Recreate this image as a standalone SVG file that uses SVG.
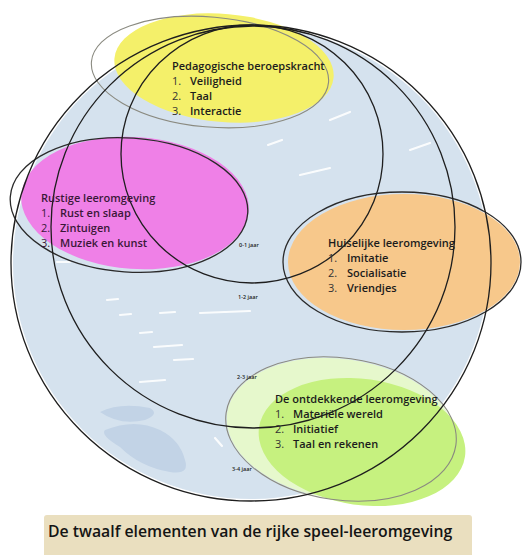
<svg xmlns="http://www.w3.org/2000/svg" width="522" height="555" viewBox="0 0 522 555">
<style>
.t{font-family:"Open Sans","Liberation Sans",sans-serif;font-weight:600;font-size:11px;fill:#1c1c1c}
.n{font-family:"Open Sans","Liberation Sans",sans-serif;font-weight:400;font-size:11px;fill:#333}
.age{font-family:"Open Sans","Liberation Sans",sans-serif;font-weight:600;font-size:5.5px;fill:#222}
.ring{fill:none;stroke:#1e1e1e;stroke-width:1.3}
.gray{fill:none;stroke:#8a8a80;stroke-width:1.1}
.dark{fill:none;stroke:#2a2a2a;stroke-width:1.3}
.streak{stroke:#ffffff;stroke-width:2.2;stroke-linecap:round;opacity:0.9}
.blob{fill:#c2d3e6}
</style>
<rect width="522" height="555" fill="#ffffff"/>
<g id="background">
<ellipse cx="251" cy="263" rx="238" ry="236" fill="#d5e2ee"/>
<path class="blob" d="M100,412 q20,-10 50,-4 q10,6 -5,12 q-25,6 -45,-8z M105,430 q30,-12 55,0 q20,10 25,30 q5,15 -15,12 q-30,-5 -50,-25 q-20,-12 -15,-17z"/>
<g>
<line class="streak" x1="107" y1="300" x2="118" y2="299"/>
<line class="streak" x1="120" y1="315" x2="131" y2="314"/>
<line class="streak" x1="140" y1="333" x2="152" y2="332"/>
<line class="streak" x1="154" y1="347" x2="182" y2="345"/>
<line class="streak" x1="174" y1="360" x2="193" y2="359"/>
<line class="streak" x1="140" y1="382" x2="165" y2="380"/>
<line class="streak" x1="200" y1="313" x2="250" y2="311"/>
<line class="streak" x1="160" y1="313" x2="175" y2="312"/>
<line class="streak" x1="268" y1="145" x2="282" y2="140"/>
<line class="streak" x1="300" y1="175" x2="330" y2="168"/>
<line class="streak" x1="410" y1="150" x2="430" y2="143"/>
<line class="streak" x1="330" y1="120" x2="350" y2="112"/>
<line class="streak" x1="215" y1="438" x2="222" y2="446"/>
<line class="streak" x1="57" y1="262" x2="70" y2="262"/>
</g>
</g>
<g id="node-pedagogisch">
<ellipse cx="224" cy="68" rx="110" ry="54" fill="#f4f06a" transform="rotate(5 224 68)"/>
<ellipse cx="210" cy="72" rx="119" ry="55" class="gray" transform="rotate(5 210 72)"/>
</g>
<g id="node-rustig">
<ellipse cx="135" cy="203" rx="114" ry="66" fill="#ef80e7" transform="rotate(4 135 203)"/>
<ellipse cx="129" cy="205" rx="119" ry="67" class="dark" transform="rotate(4 129 205)"/>
</g>
<g id="node-huiselijk">
<ellipse cx="404" cy="262" rx="116" ry="68" fill="#f7c88b"/>
<ellipse cx="402" cy="262" rx="119" ry="70" class="dark"/>
</g>
<g id="node-ontdekkend">
<ellipse cx="341" cy="429" rx="115" ry="70" fill="#e6f8cc" transform="rotate(8 341 429)"/>
<ellipse cx="362" cy="442" rx="104" ry="63" fill="#c6f17f" transform="rotate(8 362 442)"/>
<ellipse cx="341" cy="429" rx="116" ry="71" class="gray" transform="rotate(8 341 429)"/>
</g>
<g id="connectors">
<ellipse id="ring-0-1" class="ring" cx="252" cy="154" rx="131" ry="129"/>
<ellipse id="ring-1-2" class="ring" cx="253" cy="227" rx="202" ry="201"/>
<ellipse id="ring-2-3" class="ring" cx="251" cy="263" rx="240" ry="238"/>
</g>
<g id="labels-pedagogisch">
<text class="t" x="172" y="70">Pedagogische beroepskracht</text>
<text class="n" x="172" y="85">1.</text><text class="t" x="190" y="85">Veiligheid</text>
<text class="n" x="172" y="100">2.</text><text class="t" x="190" y="100">Taal</text>
<text class="n" x="172" y="115">3.</text><text class="t" x="190" y="115">Interactie</text>
</g>
<g id="labels-rustig">
<text class="t" x="41" y="202" style="fill:#3a1838">Rustige leeromgeving</text>
<text class="n" x="41" y="217" style="fill:#3a1838">1.</text><text class="t" x="60" y="217" style="fill:#3a1838">Rust en slaap</text>
<text class="n" x="41" y="232" style="fill:#3a1838">2.</text><text class="t" x="60" y="232" style="fill:#3a1838">Zintuigen</text>
<text class="n" x="41" y="247" style="fill:#3a1838">3.</text><text class="t" x="60" y="247" style="fill:#3a1838">Muziek en kunst</text>
</g>
<g id="labels-huiselijk">
<text class="t" x="328" y="247">Huiselijke leeromgeving</text>
<text class="n" x="328" y="262">1.</text><text class="t" x="347" y="262">Imitatie</text>
<text class="n" x="328" y="277">2.</text><text class="t" x="347" y="277">Socialisatie</text>
<text class="n" x="328" y="292">3.</text><text class="t" x="347" y="292">Vriendjes</text>
</g>
<g id="labels-ontdekkend">
<text class="t" x="275" y="403">De ontdekkende leeromgeving</text>
<text class="n" x="275" y="418">1.</text><text class="t" x="293" y="418">Materiële wereld</text>
<text class="n" x="275" y="433">2.</text><text class="t" x="293" y="433">Initiatief</text>
<text class="n" x="275" y="448">3.</text><text class="t" x="293" y="448">Taal en rekenen</text>
</g>
<g id="age-labels">
<text class="age" x="239" y="247">0-1 jaar</text>
<text class="age" x="238" y="299">1-2 jaar</text>
<text class="age" x="237" y="379">2-3 jaar</text>
<text class="age" x="232" y="471">3-4 jaar</text>
</g>
<g id="title">
<rect x="44" y="515" width="428" height="45" rx="3" fill="#eadfbf"/>
<text x="48" y="537" style="font-family:'Open Sans','Liberation Sans',sans-serif;font-weight:600;font-size:15.8px;fill:#141414">De twaalf elementen van de rijke speel-leeromgeving</text>
</g>
</svg>
